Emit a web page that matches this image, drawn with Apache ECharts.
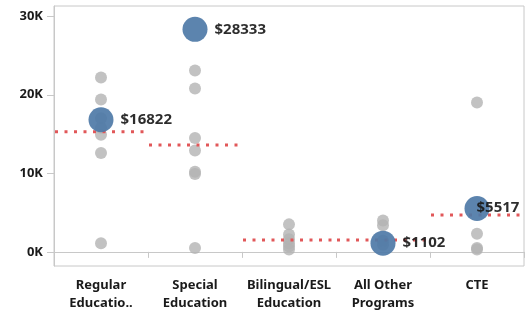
<!DOCTYPE html>
<html>
<head>
<meta charset="utf-8">
<script src="https://cdn.jsdelivr.net/npm/echarts@6/dist/echarts.min.js"></script>
<style>
  html, body { margin: 0; padding: 0; background: #fff; }
  #chart { width: 532px; height: 312px; }
</style>
</head>
<body>
<div id="chart"></div>
<script>
// 类别
const categories = ['Regular\nEducatio..', 'Special\nEducation', 'Bilingual/ESL\nEducation', 'All Other\nPrograms', 'CTE'];

// 灰色散点（各学校）
const regularPoints = [22200, 19400, 17000, 15800, 14900, 12600, 1100];
const specialPoints = [23100, 20800, 14500, 12900, 10200, 9900, 500];
const bilingualPoints = [3500, 2200, 1600, 1100, 700, 300];
const otherPoints = [4000, 3400, 1400, 900];
const ctePoints = [19000, 2300, 500, 300];

// 蓝色高亮点
const highlightValues = [16822, 28333, null, 1102, 5517];

// 红色参考线
const refLineValues = [15300, 13600, 1500, 1500, 4700];

// y轴刻度
const yTicks = [0, 10000, 20000, 30000];

const greyGroups = [regularPoints, specialPoints, bilingualPoints, otherPoints, ctePoints];
const greyData = [];
greyGroups.forEach((vals, i) => {
  vals.forEach(v => greyData.push([i, v]));
});

const blueData = [];
highlightValues.forEach((v, i) => {
  if (v == null) return;
  const item = { value: [i, v] };
  // 最右边的标签放在点中心开始
  if (i === categories.length - 1) {
    item.label = { position: [12, 12], align: 'left', verticalAlign: 'middle' };
  }
  blueData.push(item);
});

const refData = refLineValues.map((v, i) => [i, v]);

const textColor = '#1a1a1a';
const fontFamily = '"Noto Sans", sans-serif';

const chart = echarts.init(document.getElementById('chart'));
chart.setOption({
  animation: false,
  textStyle: { fontFamily: fontFamily },
  grid: {
    left: 54, right: 8, top: 6, bottom: 46,
    show: true, borderColor: '#c8c8c8', borderWidth: 1
  },
  xAxis: {
    type: 'category',
    data: categories,
    boundaryGap: true,
    axisLine: { lineStyle: { color: '#c8c8c8' } },
    axisTick: { show: true, length: 6, lineStyle: { color: '#c8c8c8' } },
    axisLabel: {
      color: textColor, fontWeight: 'bold', fontSize: 13,
      lineHeight: 18, margin: 10, interval: 0
    },
    splitLine: { show: false }
  },
  yAxis: {
    type: 'value',
    min: -1800,
    max: 31300,
    axisLine: { show: true, lineStyle: { color: '#c8c8c8' } },
    axisTick: { show: true, length: 7, customValues: yTicks, lineStyle: { color: '#c8c8c8' } },
    axisLabel: {
      customValues: yTicks,
      color: textColor, fontWeight: 'bold', fontSize: 13, margin: 11,
      formatter: v => (v / 1000) + 'K'
    },
    splitLine: { show: false }
  },
  series: [
    {
      type: 'scatter',
      data: greyData,
      symbolSize: 12,
      itemStyle: { color: '#b3b3b3', opacity: 0.8 },
      z: 2
    },
    {
      type: 'custom',
      data: refData,
      z: 3,
      renderItem: (params, api) => {
        const c = api.coord([api.value(0), api.value(1)]);
        const bw = api.size([1, 0])[0];
        return {
          type: 'line',
          shape: { x1: c[0] - bw / 2 + 1, y1: c[1], x2: c[0] + bw / 2, y2: c[1] },
          style: { stroke: '#e15759', lineWidth: 3, lineDash: [3, 6.5] }
        };
      }
    },
    {
      type: 'scatter',
      data: blueData,
      symbolSize: 25,
      itemStyle: { color: '#4e79a7', opacity: 0.92 },
      z: 4,
      label: {
        show: true,
        position: 'right',
        distance: 7,
        color: textColor,
        fontWeight: 'bold',
        fontSize: 15,
        formatter: p => '$' + p.value[1]
      }
    }
  ]
});
</script>
</body>
</html>
